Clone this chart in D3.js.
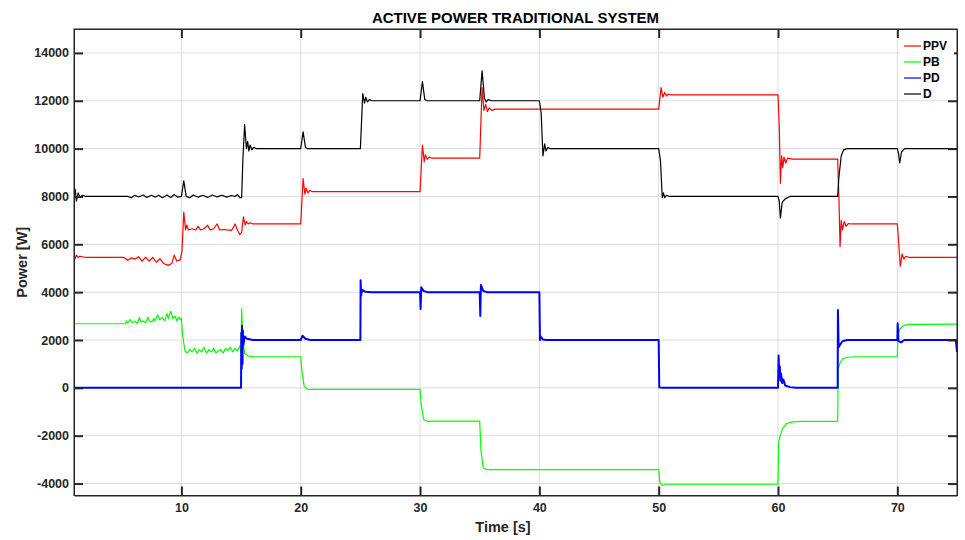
<!DOCTYPE html>
<html>
<head>
<meta charset="utf-8">
<script src="https://cdn.jsdelivr.net/npm/d3@7"></script>
<style>
  html, body { margin: 0; padding: 0; background: #fff; }
  svg { display: block; }
  text { font-family: "Liberation Sans", Arial, Helvetica, sans-serif; }
</style>
</head>
<body>
<svg id="chart" width="965" height="540"></svg>
<script>
// ---------- data ----------
const xTicks = [10, 20, 30, 40, 50, 60, 70];
const yTicks = [-4000, -2000, 0, 2000, 4000, 6000, 8000, 10000, 12000, 14000];
const seriesNames = ["PPV", "PB", "PD", "D"];
const seriesColors = ["#ff0000", "#00ff00", "#0000ff", "#000000"];

const ppvPoints = [
  [1.0,5600],[1.1,5400],[1.2,5550],[1.35,5450],[1.5,5500],[2,5450],[5.2,5450],[5.5,5330],[5.8,5430],
  [6.1,5380],[6.4,5480],[6.7,5300],[7.0,5460],[7.3,5300],[7.6,5450],[7.9,5250],[8.2,5400],[8.5,5200],
  [8.9,5120],[9.2,5200],[9.4,5550],[9.6,5300],[9.9,5350],[10.05,5700],[10.2,7350],[10.35,6600],
  [10.45,6800],[10.6,6600],[10.9,6650],[11.2,6600],[11.4,6750],[11.6,6600],[11.9,6650],[12.2,6800],
  [12.4,6600],[12.7,6650],[13.0,6850],[13.2,6600],[13.5,6620],[13.8,6600],[14.2,6580],[14.5,6850],
  [14.7,6600],[14.9,6400],[15.05,6500],[15.2,7150],[15.35,6800],[15.45,6950],[15.6,6850],[15.75,6900],
  [16.0,6850],[20.0,6850],[20.2,8750],[20.35,8100],[20.45,8350],[20.6,8150],[20.75,8250],[21.0,8200],
  [30.0,8200],[30.2,10150],[30.35,9450],[30.45,9750],[30.6,9550],[30.75,9650],[31.0,9600],[35.0,9600],
  [35.2,12550],[35.35,11600],[35.5,11850],[35.65,11550],[35.8,11700],[36.0,11600],[36.3,11650],
  [50.0,11650],[50.2,12550],[50.35,12150],[50.5,12350],[50.65,12200],[50.8,12280],[51.0,12250],
  [60.0,12250],[60.1,11000],[60.2,8550],[60.3,9700],[60.4,9200],[60.5,9650],[60.65,9400],[60.8,9600],
  [61.2,9560],[65.0,9560],[65.1,8000],[65.2,5900],[65.3,7000],[65.4,6600],[65.55,6950],[65.7,6750],
  [65.9,6870],[66.2,6850],[70.0,6850],[70.15,5800],[70.25,5080],[70.4,5600],[70.55,5380],[70.7,5500],
  [71.0,5450],[75,5450]
];

const pbPoints = [
  [1.0,2680],[5.3,2680],[5.4,2800],[5.5,2700],[5.7,2850],[5.9,2720],[6.1,2780],[6.3,2700],[6.5,2950],
  [6.6,2750],[6.8,2800],[7.0,2720],[7.2,2950],[7.3,2800],[7.5,2750],[7.7,2900],[7.8,2800],[8.0,3050],
  [8.2,2850],[8.4,2950],[8.6,2800],[8.8,3100],[8.9,2900],[9.1,3200],[9.3,2900],[9.5,3000],[9.6,2800],
  [9.8,2950],[9.9,2850],[10.0,2900],[10.1,2200],[10.3,1550],[10.5,1450],[10.7,1600],[10.9,1500],
  [11.1,1650],[11.3,1450],[11.5,1600],[11.7,1500],[11.9,1700],[12.1,1450],[12.3,1600],[12.5,1500],
  [12.7,1650],[12.9,1450],[13.1,1550],[13.3,1600],[13.5,1450],[13.7,1650],[13.9,1550],[14.1,1700],
  [14.3,1500],[14.5,1650],[14.7,1550],[14.9,1750],[15.0,1500],[15.05,3300],[15.15,2000],[15.3,1450],
  [15.6,1330],[16.0,1300],[20.0,1300],[20.1,700],[20.3,50],[20.6,-70],[21.0,-60],[30.0,-60],
  [30.1,-700],[30.3,-1320],[30.6,-1400],[31.0,-1390],[35.0,-1390],[35.1,-2600],[35.3,-3350],
  [35.6,-3420],[50.0,-3420],[50.1,-3950],[50.3,-4080],[50.6,-4030],[60.0,-4030],[60.05,-2300],
  [60.15,-2050],[60.4,-1700],[60.7,-1500],[61.2,-1420],[62.0,-1400],[65.0,-1400],[65.05,800],
  [65.2,1050],[65.4,1200],[65.8,1280],[66.5,1300],[70.0,1300],[70.05,2200],[70.2,2450],[70.5,2600],
  [71.0,2650],[75,2660]
];

const pdPoints = [
  [1.0,0],[15.0,0],[15.02,2300],[15.05,800],[15.08,2600],[15.12,1000],[15.15,2400],[15.2,1800],
  [15.3,2150],[15.5,2050],[16.0,2000],[20.0,2000],[20.15,2180],[20.4,2050],[20.8,2000],[25.0,2000],
  [25.02,4500],[25.06,3850],[25.15,4100],[25.4,4020],[26.0,4000],[30.0,4000],[30.05,3300],[30.1,4200],
  [30.3,4050],[30.6,4000],[35.0,4000],[35.05,3000],[35.1,4300],[35.3,4050],[35.6,4000],[40.0,4000],
  [40.05,2000],[40.1,2150],[40.3,2020],[40.6,2000],[50.0,2000],[50.05,20],[50.3,0],[60.0,0],
  [60.05,1350],[60.1,500],[60.15,900],[60.2,300],[60.25,600],[60.35,200],[60.45,350],[60.6,100],
  [61.0,30],[61.5,0],[65.0,0],[65.02,3250],[65.08,1700],[65.2,1800],[65.4,1950],[65.8,2000],
  [70.0,2000],[70.03,2700],[70.1,1950],[70.3,1900],[70.6,2000],[74.9,2000],[75,1500]
];

const dPoints = [
  [1.0,8000],[1.1,8300],[1.2,7800],[1.35,8150],[1.5,7950],[1.7,8050],[2,8000],[5.5,8000],[5.8,7950],
  [6.1,8050],[6.4,7980],[6.8,8060],[7.1,7960],[7.5,8050],[7.8,7970],[8.1,8050],[8.4,7950],[8.8,8060],
  [9.1,7960],[9.4,8080],[9.7,7970],[10.0,8000],[10.2,8650],[10.4,8000],[10.7,7950],[11.0,8060],
  [11.4,7970],[11.8,8050],[12.2,7960],[12.6,8060],[13.0,7980],[13.4,8050],[13.8,7970],[14.2,8040],
  [14.5,8000],[14.7,8080],[14.9,7950],[15.05,7950],[15.15,9500],[15.3,11000],[15.45,10000],
  [15.55,10300],[15.65,9900],[15.75,10150],[15.9,9950],[16.05,10050],[16.3,10000],[20.0,10000],
  [20.2,10700],[20.4,10050],[20.55,10000],[25.0,10000],[25.2,12300],[25.35,11900],[25.45,12150],
  [25.6,11950],[25.75,12050],[26.0,12000],[30.0,12000],[30.2,12800],[30.4,12050],[30.6,12000],
  [35.0,12000],[35.2,13250],[35.4,12100],[35.55,11950],[35.7,12050],[36.0,12000],[40.0,12000],
  [40.15,11500],[40.3,9700],[40.45,10200],[40.55,9900],[40.7,10050],[40.9,10000],[50.0,10000],
  [50.15,9500],[50.3,7950],[50.4,8150],[50.5,7950],[50.65,8050],[50.9,8000],[60.0,8000],[60.1,7800],
  [60.2,7100],[60.35,7750],[60.6,7900],[61.0,8000],[65.0,8000],[65.1,8800],[65.3,9700],[65.5,9950],
  [65.8,10000],[70.0,10000],[70.1,9800],[70.2,9400],[70.35,9850],[70.6,10000],[75,10000]
];

const seriesData = [ppvPoints, pbPoints, pdPoints, dPoints];
const seriesWidths = [1.2, 1.2, 2, 1.2];

// ---------- layout ----------
const svg = d3.select("#chart");
const L = 74, R = 957, T = 29, B = 495.5;
const x = d3.scaleLinear().domain([1, 75]).range([L, R]);
const y = d3.scaleLinear().domain([-4500, 15000]).range([B, T]);
const axisColor = "#262626";
const tickLen = 9;

// grid
const grid = svg.append("g");
xTicks.forEach(t => grid.append("line")
  .attr("x1", x(t)).attr("x2", x(t)).attr("y1", T).attr("y2", B)
  .attr("stroke", "#dcdcdc").attr("stroke-width", 1));
yTicks.forEach(t => grid.append("line")
  .attr("x1", L).attr("x2", R).attr("y1", y(t)).attr("y2", y(t))
  .attr("stroke", "#dcdcdc").attr("stroke-width", 1));

// clip
svg.append("defs").append("clipPath").attr("id", "clip")
  .append("rect").attr("x", L).attr("y", T).attr("width", R - L).attr("height", B - T);

// lines
const line = d3.line().x(d => x(d[0])).y(d => y(d[1]));
const plot = svg.append("g").attr("clip-path", "url(#clip)");
seriesData.forEach((pts, i) => {
  plot.append("path").datum(pts)
    .attr("d", line)
    .attr("fill", "none")
    .attr("stroke", seriesColors[i])
    .attr("stroke-width", seriesWidths[i])
    .attr("stroke-linejoin", "round");
});

// axes (MATLAB style: ticks inward, on all four sides)
const fontTick = "bold 12.5px 'Liberation Sans', Arial, sans-serif";
const xAxisB = d3.axisBottom(x).tickValues(xTicks).tickSizeInner(-tickLen).tickSizeOuter(0).tickPadding(8);
const xAxisT = d3.axisTop(x).tickValues(xTicks).tickSizeInner(-tickLen).tickSizeOuter(0).tickFormat("");
const yAxisL = d3.axisLeft(y).tickValues(yTicks).tickSizeInner(-tickLen).tickSizeOuter(0).tickPadding(5)
  .tickFormat(d => String(d));
const yAxisR = d3.axisRight(y).tickValues(yTicks).tickSizeInner(-tickLen).tickSizeOuter(0).tickFormat("");

function style(g) {
  g.selectAll("line").attr("stroke", axisColor).attr("stroke-width", 2);
  g.selectAll("path.domain").attr("stroke", axisColor).attr("stroke-width", 1);
  g.selectAll("text").attr("fill", axisColor).style("font", fontTick);
}
svg.append("g").attr("transform", `translate(0,${B})`).call(xAxisB).call(style);
svg.append("g").attr("transform", `translate(0,${T})`).call(xAxisT).call(style);
svg.append("g").attr("transform", `translate(${L},0)`).call(yAxisL).call(style);
svg.append("g").attr("transform", `translate(${R},0)`).call(yAxisR).call(style);

// box
svg.append("rect").attr("x", L).attr("y", T).attr("width", R - L).attr("height", B - T)
  .attr("fill", "none").attr("stroke", axisColor).attr("stroke-width", 1);

// title and labels
const labelFont = "bold 14.5px 'Liberation Sans', Arial, sans-serif";
svg.append("text").attr("x", (L + R) / 2).attr("y", 23).attr("text-anchor", "middle")
  .style("font", "bold 15px 'Liberation Sans', Arial, sans-serif").attr("fill", "#000")
  .text("ACTIVE POWER TRADITIONAL SYSTEM");
svg.append("text").attr("x", 503).attr("y", 532).attr("text-anchor", "middle")
  .style("font", labelFont).attr("fill", axisColor)
  .text("Time [s]");
svg.append("text").attr("transform", `translate(27,${(T + B) / 2}) rotate(-90)`).attr("text-anchor", "middle")
  .style("font", labelFont).attr("fill", axisColor)
  .text("Power [W]");

// legend
const lg = svg.append("g");
lg.append("rect").attr("x", 900).attr("y", 37).attr("width", 54).attr("height", 63).attr("fill", "#fff");
seriesNames.forEach((n, i) => {
  const yy = 46 + i * 16;
  lg.append("line").attr("x1", 904).attr("x2", 921).attr("y1", yy).attr("y2", yy)
    .attr("stroke", seriesColors[i]).attr("stroke-width", 1.2);
  lg.append("text").attr("x", 923).attr("y", yy).attr("dy", "0.35em")
    .style("font", "bold 12px 'Liberation Sans', Arial, sans-serif").attr("fill", "#000").text(n);
});
</script>
</body>
</html>
